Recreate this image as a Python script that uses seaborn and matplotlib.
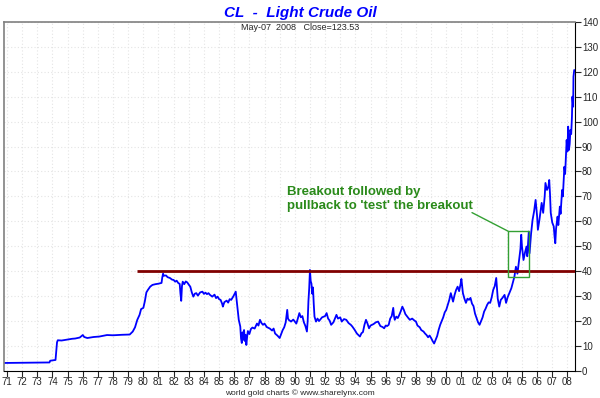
import matplotlib
matplotlib.use("Agg")
import matplotlib.pyplot as plt
import seaborn as sns
import pandas as pd
from matplotlib.patches import Rectangle

# Price series (x = chart year position, 71 = 1971)
years = [70.85, 73.8, 73.85, 74.2, 74.3, 74.35, 74.6, 75.0, 75.3, 75.5,
         75.8, 76.0, 76.1, 76.3, 76.7, 77.1, 77.6, 78.0, 78.6, 79.1,
         79.3, 79.45, 79.6, 79.75, 79.85, 80.0, 80.1, 80.2, 80.3, 80.45,
         80.6, 80.8, 81.0, 81.2, 81.25, 81.3, 81.35, 81.5, 81.6, 81.75,
         81.9, 82.0, 82.1, 82.2, 82.3, 82.4, 82.45, 82.5, 82.55, 82.6,
         82.7, 82.8, 82.9, 83.0, 83.1, 83.2, 83.3, 83.4, 83.5, 83.6,
         83.75, 83.9, 84.0, 84.1, 84.2, 84.3, 84.4, 84.55, 84.7, 84.8,
         84.9, 85.0, 85.1, 85.2, 85.25, 85.35, 85.5, 85.6, 85.7, 85.8,
         85.95, 86.1, 86.15, 86.2, 86.3, 86.4, 86.45, 86.5, 86.55, 86.6,
         86.65, 86.7, 86.75, 86.8, 86.85, 86.9, 87.0, 87.1, 87.2, 87.35,
         87.5, 87.6, 87.7, 87.8, 87.9, 88.0, 88.15, 88.35, 88.5, 88.6,
         88.7, 88.85, 89.0, 89.1, 89.2, 89.3, 89.4, 89.5, 89.55, 89.6,
         89.75, 89.9, 90.1, 90.2, 90.3, 90.4, 90.5, 90.6, 90.7, 90.8,
         90.85, 90.9, 90.95, 91.0, 91.05, 91.1, 91.15, 91.2, 91.25, 91.3,
         91.4, 91.5, 91.6, 91.8, 92.0, 92.1, 92.2, 92.3, 92.4, 92.55,
         92.65, 92.75, 92.85, 93.0, 93.1, 93.25, 93.4, 93.55, 93.7, 93.8,
         93.95, 94.1, 94.3, 94.4, 94.5, 94.6, 94.7, 94.8, 94.9, 95.0,
         95.2, 95.35, 95.5, 95.65, 95.8, 95.9, 96.0, 96.1, 96.2, 96.3,
         96.4, 96.5, 96.55, 96.6, 96.7, 96.8, 96.9, 97.0, 97.1, 97.2,
         97.3, 97.4, 97.5, 97.6, 97.75, 97.9, 98.0, 98.1, 98.25, 98.35,
         98.5, 98.6, 98.7, 98.8, 98.9, 99.0, 99.1, 99.2, 99.3, 99.4,
         99.5, 99.6, 99.7, 99.8, 99.9, 100.0, 100.1, 100.2, 100.3, 100.4,
         100.45, 100.55, 100.65, 100.75, 100.85, 100.95, 101.0, 101.05, 101.1, 101.2,
         101.3, 101.4, 101.5, 101.6, 101.7, 101.8, 101.9, 102.0, 102.1, 102.2,
         102.3, 102.4, 102.5, 102.6, 102.7, 102.8, 102.9, 103.0, 103.1, 103.2,
         103.3, 103.35, 103.4, 103.5, 103.6, 103.7, 103.85, 103.95, 104.05, 104.15,
         104.3, 104.4, 104.5, 104.6, 104.7, 104.8, 104.9, 104.95, 105.0, 105.1,
         105.2, 105.3, 105.35, 105.45, 105.5, 105.6, 105.7, 105.8, 105.9, 106.0,
         106.05, 106.15, 106.3, 106.4, 106.5, 106.55, 106.65, 106.75, 106.8, 106.85,
         106.9, 107.0, 107.1, 107.15, 107.2, 107.25, 107.35, 107.4, 107.5, 107.55,
         107.65, 107.7, 107.8, 107.85, 107.95, 108.0, 108.05, 108.1, 108.15, 108.2,
         108.25, 108.3, 108.33, 108.38, 108.4, 108.45]
prices = [3.2, 3.4, 4.1, 4.4, 11.5, 12.3, 12.2, 12.6, 12.9, 13.0,
          13.4, 14.4, 13.6, 13.2, 13.6, 13.8, 14.4, 14.3, 14.5, 14.6,
          15.8, 17.5, 20.5, 22.5, 24.8, 25.3, 28.0, 31.5, 32.5, 33.8,
          34.5, 34.8, 35.0, 35.3, 37.5, 39.0, 38.2, 38.3, 37.6, 37.3,
          36.6, 36.5, 35.8, 36.2, 35.3, 34.9, 31.0, 28.1, 34.0, 35.8,
          34.8, 35.9, 35.5, 34.6, 33.8, 31.5, 29.8, 31.0, 31.2, 30.2,
          31.5, 31.8, 30.9, 31.4, 30.8, 31.2, 30.5, 29.8, 30.6, 29.2,
          29.8, 28.8, 28.5, 27.0, 25.8, 27.6, 28.2, 27.4, 28.8, 28.5,
          30.0, 31.8, 29.0, 25.8, 20.5, 17.8, 13.0, 11.2, 15.5, 12.5,
          16.4, 12.0, 14.5, 10.4, 13.5, 16.0, 14.8, 16.8, 17.4, 17.0,
          19.0, 18.2, 20.5, 19.2, 18.5, 19.0, 17.6, 17.0, 16.2, 17.0,
          15.0, 14.2, 13.2, 14.8, 16.4, 17.5, 19.5, 24.5, 21.0, 20.5,
          19.8, 20.6, 19.0, 21.0, 23.2, 21.5, 22.0, 19.5, 18.0, 15.8,
          20.0, 28.0, 33.0, 40.5, 36.0, 35.0, 31.0, 33.5, 27.0, 21.8,
          19.8, 21.0, 20.0, 21.5, 22.0, 23.2, 21.0, 20.2, 18.5, 19.5,
          21.0, 22.5, 21.0, 21.5, 19.8, 20.8, 20.5, 19.2, 18.5, 17.8,
          16.5, 15.0, 13.8, 15.1, 15.6, 18.5, 20.5, 19.0, 17.1, 18.2,
          18.8, 19.5, 19.8, 18.0, 17.6, 17.1, 18.2, 18.0, 18.5, 21.0,
          22.0, 25.3, 22.0, 20.5, 21.8, 21.2, 22.5, 24.0, 25.8, 24.5,
          22.8, 22.0, 21.2, 20.5, 21.0, 20.2, 19.8, 18.2, 17.5, 16.4,
          15.8, 15.0, 14.4, 13.5, 14.2, 13.2, 12.0, 11.0, 12.5, 14.0,
          16.5, 18.5, 20.0, 21.5, 23.5, 24.5, 26.5, 28.5, 31.2, 29.0,
          27.8, 30.5, 32.5, 33.8, 32.0, 35.0, 36.9, 34.0, 31.2, 29.0,
          27.3, 29.0, 28.5, 29.3, 27.0, 26.0, 23.0, 21.3, 19.5, 18.5,
          20.0, 21.5, 23.8, 25.0, 26.5, 27.5, 27.3, 29.5, 32.5, 34.0,
          37.3, 33.0, 29.0, 25.8, 28.5, 29.2, 30.5, 27.3, 29.5, 31.0,
          33.2, 35.5, 37.8, 41.8, 39.0, 44.0, 49.0, 54.6, 50.0, 44.5,
          47.5, 49.9, 46.0, 55.9, 47.2, 55.0, 60.6, 64.0, 68.6, 62.0,
          56.6, 60.5, 67.4, 63.4, 70.0, 75.4, 72.6, 74.0, 76.6, 71.0,
          63.4, 59.5, 57.9, 54.0, 51.2, 57.0, 61.9, 58.5, 65.9, 63.0,
          72.6, 70.0, 81.9, 79.0, 92.6, 88.0, 98.0, 88.6, 91.0, 96.7,
          95.0, 102.0, 110.0, 106.0, 118.0, 120.7]

resistance = 40
resistance_start = 79.6
test_box = [104.1, 37.7, 105.45, 56.0]  # x0, y0, x1, y1
note = "Breakout followed by\npullback to 'test' the breakout"

df = pd.DataFrame({"year": years, "price": prices})

sns.set_style("white")
plt.rcParams['font.family'] = ['Liberation Sans', 'DejaVu Sans']

fig = plt.figure(figsize=(6, 3.98), dpi=100)
ax = fig.add_axes([0.0067, 0.068, 0.9516, 0.877])

sns.lineplot(data=df, x="year", y="price", sort=False, color="#0000ff", lw=1.3, ax=ax)

ax.hlines(resistance, resistance_start, 108.5, color="#800000", lw=2, zorder=3)
ax.add_patch(Rectangle((test_box[0], test_box[1]), test_box[2] - test_box[0],
                       test_box[3] - test_box[1], fill=False, ec="#33a033", lw=1, zorder=4))
ax.plot([101.7, test_box[0]], [63.5, test_box[3]], color="#33a033", lw=1, zorder=4)
ax.text(89.5, 69.0, note, color="#2a8a1a", fontsize=9.5, fontweight="bold",
        ha="left", va="center", linespacing=1.15)

ax.set_xlim(70.8, 108.5)
ax.set_ylim(0, 140)
xt = list(range(71, 109))
ax.set_xticks(xt)
ax.set_xticklabels([f"{t % 100:02d}" for t in xt], fontsize=7)
ax.set_yticks(range(0, 141, 10))
ax.yaxis.tick_right()
ax.tick_params(axis="y", labelsize=7, length=4, direction="out", right=True, left=False, pad=1)
ax.tick_params(axis="x", length=4, direction="out", bottom=True, pad=0.5)
ax.grid(True, color="#e4e4e4", ls=(0, (1, 2)), lw=0.8)
ax.set_xlabel("")
ax.set_ylabel("")

for side in ["left", "top"]:
    ax.spines[side].set_color("#808080")
    ax.spines[side].set_linewidth(1.2)
for side in ["right", "bottom"]:
    ax.spines[side].set_color("black")
    ax.spines[side].set_linewidth(0.8)

fig.text(0.5, 0.968, "CL  -  Light Crude Oil", color="#0000ff", fontsize=11,
         fontweight="bold", fontstyle="italic", ha="center", va="center")
fig.text(0.5, 0.932, "May-07  2008   Close=123.53", fontsize=6.5, ha="center", va="center")
fig.text(0.5, 0.012, "world gold charts \u00a9 www.sharelynx.com", fontsize=6,
         ha="center", va="center")

fig.savefig("out.png", dpi=100)
